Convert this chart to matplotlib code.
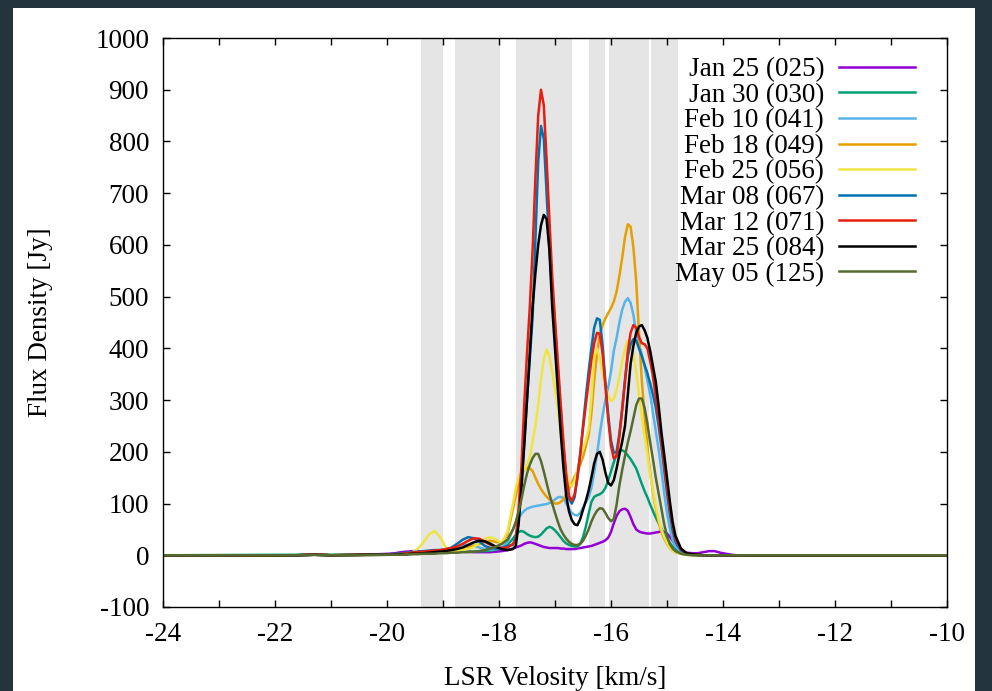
import matplotlib
matplotlib.use('Agg')
import matplotlib.pyplot as plt
from matplotlib.patches import Rectangle
from matplotlib.ticker import MultipleLocator

plt.rcParams['font.family'] = ['Liberation Serif', 'DejaVu Serif']
plt.rcParams['axes.unicode_minus'] = False

# velocity samples (km/s)
velocity = [-24.0, -21.6, -21.3, -21.0, -20.4,
            -19.95, -19.85, -19.75, -19.65, -19.55, -19.45, -19.35, -19.25, -19.15, -19.05,
            -18.95, -18.85, -18.75, -18.65, -18.55, -18.45, -18.35, -18.25, -18.15, -18.05,
            -17.95, -17.85,
            -17.75, -17.70, -17.65, -17.60, -17.55, -17.50, -17.45, -17.40, -17.35, -17.30,
            -17.25, -17.20, -17.15, -17.10, -17.05, -17.00, -16.95, -16.90, -16.85, -16.80,
            -16.75, -16.70, -16.65, -16.60, -16.55, -16.50, -16.45, -16.40, -16.35, -16.30,
            -16.25, -16.20, -16.15, -16.10, -16.05, -16.00, -15.95, -15.90, -15.85, -15.80,
            -15.75, -15.70, -15.65, -15.60, -15.55, -15.50, -15.45, -15.40, -15.35, -15.30,
            -15.25, -15.20, -15.15, -15.10, -15.05, -15.00, -14.95, -14.90, -14.85,
            -14.75, -14.65, -14.55, -14.45, -14.35, -14.25, -14.15, -14.05, -13.95, -13.85, -13.75,
            -13.4, -10.0]

# flux density (Jy) per epoch
jan25 = [0, 0, 1, 0, 1,
         3, 4, 6, 7, 8, 8, 7, 6, 5, 5,
         6, 7, 8, 8, 7, 6, 6, 6, 6, 7,
         8, 10,
         13, 15, 17, 19, 22, 24, 25, 24, 22, 20,
         18, 16, 15, 14, 14, 14, 14, 13, 13, 12,
         12, 12, 12, 13, 14, 15, 16, 17, 18, 20,
         22, 24, 26, 29, 34, 45, 62, 76, 85, 89,
         90, 86, 74, 60, 50, 46, 44, 43, 42, 42,
         43, 44, 45, 46, 45, 42, 36, 28, 20,
         9, 5, 4, 4, 6, 8, 8, 5, 3, 1, 0,
         0, 0]
jan30 = [0, 1, 2, 1, 1,
         1, 1, 2, 2, 3, 3, 4, 4, 5, 5,
         5, 6, 6, 7, 7, 7, 8, 8, 9, 11,
         14, 20,
         32, 40, 45, 47, 45, 41, 38, 36, 35, 36,
         40, 46, 52, 55, 53, 48, 42, 35, 28, 23,
         20, 18, 17, 17, 22, 35, 55, 80, 103, 113,
         116, 118, 122, 130, 145, 162, 180, 195, 202, 203,
         200, 193, 186, 177, 168, 153, 138, 124, 112, 98,
         85, 73, 62, 52, 40, 31, 24, 17, 12,
         6, 2, 1, 1, 0, 0, 0, 0, 0, 0, 0,
         0, 0]
feb10 = [0, 0, 1, 0, 1,
         1, 2, 2, 3, 4, 5, 5, 6, 8, 10,
         12, 14, 17, 20, 20, 18, 15, 12, 11, 12,
         15, 25,
         50, 62, 72, 80, 86, 90, 92, 94, 95, 96,
         97, 98, 99, 101, 104, 108, 112, 113, 110, 100,
         90, 82, 78, 77, 82, 92, 102, 112, 130, 160,
         195, 235, 270, 300, 325, 355, 395, 420, 450, 475,
         490, 497, 488, 465, 430, 408, 388, 365, 338, 310,
         275, 240, 205, 165, 120, 82, 52, 30, 17,
         7, 2, 1, 0, 0, 0, 0, 0, 0, 0, 0,
         0, 0]
feb18 = [0, 0, 1, 0, 1,
         1, 1, 2, 2, 3, 3, 4, 5, 6, 7,
         8, 10, 12, 14, 16, 18, 22, 26, 28, 26,
         24, 40,
         90, 115, 140, 155, 165, 170, 168, 163, 150, 138,
         128, 120, 113, 108, 104, 100, 100, 103, 108, 118,
         128, 140, 152, 162, 175, 190, 210, 232, 275, 338,
         390, 428, 445, 458, 468, 478, 490, 510, 540, 575,
         615, 640, 635, 595, 530, 430, 338, 270, 210, 160,
         120, 90, 65, 45, 32, 22, 14, 9, 6,
         3, 1, 1, 0, 0, 0, 0, 0, 0, 0, 0,
         0, 0]
feb25 = [0, 0, 1, 0, 1,
         1, 2, 2, 4, 6, 12, 25, 40, 47, 35,
         15, 9, 8, 10, 12, 16, 24, 32, 35, 30,
         24, 45,
         100, 130, 150, 160, 165, 175, 190, 220, 250, 290,
         340, 380, 398, 385, 355, 320, 285, 240, 200, 165,
         138, 133, 145, 165, 190, 205, 222, 245, 305, 385,
         400, 380, 352, 326, 308, 298, 302, 320, 345, 375,
         400, 415, 410, 390, 355, 310, 268, 230, 195, 155,
         125, 95, 70, 50, 35, 24, 15, 9, 6,
         3, 1, 0, 0, 0, 0, 0, 0, 0, 0, 0,
         0, 0]
mar08 = [0, 0, 1, 0, 1,
         2, 3, 4, 5, 6, 7, 8, 9, 10, 10,
         11, 15, 22, 30, 35, 33, 26, 18, 14, 13,
         14, 18,
         20, 35, 70, 130, 220, 300, 380, 460, 610, 760,
         830, 805, 700, 595, 510, 445, 360, 280, 210, 150,
         110, 100, 112, 150, 195, 250, 305, 355, 400, 440,
         458, 455, 405, 335, 272, 222, 198, 200, 235, 285,
         340, 385, 408, 418, 415, 400, 385, 368, 352, 332,
         310, 285, 250, 210, 165, 120, 80, 48, 27,
         9, 3, 1, 0, 0, 0, 0, 0, 0, 0, 0,
         0, 0]
mar12 = [0, 0, 2, 0, 1,
         1, 2, 3, 4, 5, 6, 7, 8, 9, 10,
         12, 14, 17, 22, 28, 33, 32, 26, 20, 16,
         14, 15,
         22, 30, 90, 170, 290, 390, 480, 590, 730, 850,
         900, 870, 765, 650, 540, 455, 375, 295, 220, 155,
         115, 105, 118, 150, 195, 245, 290, 335, 378, 410,
         430, 428, 390, 328, 262, 212, 187, 192, 230, 280,
         335, 395, 430, 445, 440, 422, 410, 408, 400, 375,
         345, 305, 265, 220, 175, 130, 90, 57, 32,
         11, 4, 2, 1, 0, 0, 0, 0, 0, 0, 0,
         0, 0]
mar25 = [0, 0, 1, 0, 1,
         1, 1, 2, 2, 3, 3, 4, 5, 6, 7,
         8, 10, 12, 15, 20, 25, 28, 27, 22, 16,
         12, 10,
         12, 18, 60, 130, 210, 300, 390, 480, 545, 600,
         638, 658, 650, 590, 480, 400, 320, 240, 170, 115,
         85, 68, 60, 58, 70, 88, 105, 125, 150, 178,
         196, 200, 185, 160, 140, 135, 145, 168, 195, 220,
         250, 310, 370, 405, 430, 442, 445, 435, 420, 395,
         365, 335, 290, 238, 195, 150, 105, 65, 38,
         13, 4, 2, 1, 0, 0, 0, 0, 0, 0, 0,
         0, 0]
may05 = [0, 0, 1, 0, 0,
         1, 1, 1, 2, 2, 2, 3, 3, 3, 4,
         4, 5, 5, 6, 6, 7, 8, 10, 13, 17,
         22, 30,
         50, 65, 85, 108, 135, 158, 175, 188, 196, 196,
         182, 162, 140, 118, 100, 82, 65, 50, 40, 32,
         26, 22, 20, 20, 22, 28, 38, 50, 65, 77,
         86, 91, 90, 82, 72, 66, 70, 98, 135, 165,
         192, 218, 240, 265, 290, 303, 303, 285, 255, 218,
         185, 150, 120, 90, 60, 38, 22, 13, 8,
         3, 1, 0, 0, 0, 0, 0, 0, 0, 0, 0,
         0, 0]

series = [jan25, jan30, feb10, feb18, feb25, mar08, mar12, mar25, may05]
labels = ['Jan 25 (025)', 'Jan 30 (030)', 'Feb 10 (041)', 'Feb 18 (049)', 'Feb 25 (056)',
          'Mar 08 (067)', 'Mar 12 (071)', 'Mar 25 (084)', 'May 05 (125)']
colors = ['#9400d3', '#009e73', '#56b4e9', '#e69f00', '#f0e442',
          '#0072b2', '#e51e10', '#000000', '#556b2f']

# shaded velocity ranges
bands = [(-19.40, -19.00), (-18.79, -17.98), (-17.70, -16.69),
         (-16.39, -16.11), (-16.03, -15.33), (-15.29, -14.81)]

fig = plt.figure(figsize=(9.92, 6.91), dpi=100, facecolor='#24343e')
fig.patches.append(Rectangle((13 / 992, 0), 962 / 992, 683 / 691, transform=fig.transFigure,
                             facecolor='white', edgecolor='none', zorder=-10))
ax = fig.add_axes([163 / 992, 1 - 607 / 691, 784 / 992, 569 / 691])
ax.set_zorder(1)

for a, b in bands:
    ax.axvspan(a, b, color='#e5e5e5', lw=0, zorder=0)

for y, lab, c in zip(series, labels, colors):
    ax.plot(velocity, y, color=c, lw=1.8, label=lab, solid_joinstyle='round')

ax.set_xlim(-24, -10)
ax.set_ylim(-100, 1000)
ax.xaxis.set_major_locator(MultipleLocator(2))
ax.xaxis.set_minor_locator(MultipleLocator(1))
ax.yaxis.set_major_locator(MultipleLocator(100))
ax.tick_params(which='both', direction='in', top=True, right=True, length=5, width=1,
               labelsize=19.5)
ax.tick_params(axis='x', which='both', pad=11)
ax.tick_params(axis='y', which='both', pad=10)
for s in ax.spines.values():
    s.set_linewidth(1)

ax.set_xlabel('LSR Velosity [km/s]', fontsize=19.5)
ax.set_ylabel('Flux Density [Jy]', fontsize=19.5)
ax.xaxis.set_label_coords(0.5, -0.104)
ax.yaxis.set_label_coords(-0.14, 0.5)

leg = ax.legend(loc='upper right', bbox_to_anchor=(0.959, 0.966), frameon=False,
                markerfirst=False, fontsize=19.5, handlelength=2.8, handletextpad=0.55,
                labelspacing=0.02, borderpad=0, borderaxespad=0)
for col in leg._legend_handle_box.get_children():
    col.align = 'right'

fig.savefig('out.png', dpi=100, facecolor=fig.get_facecolor())
